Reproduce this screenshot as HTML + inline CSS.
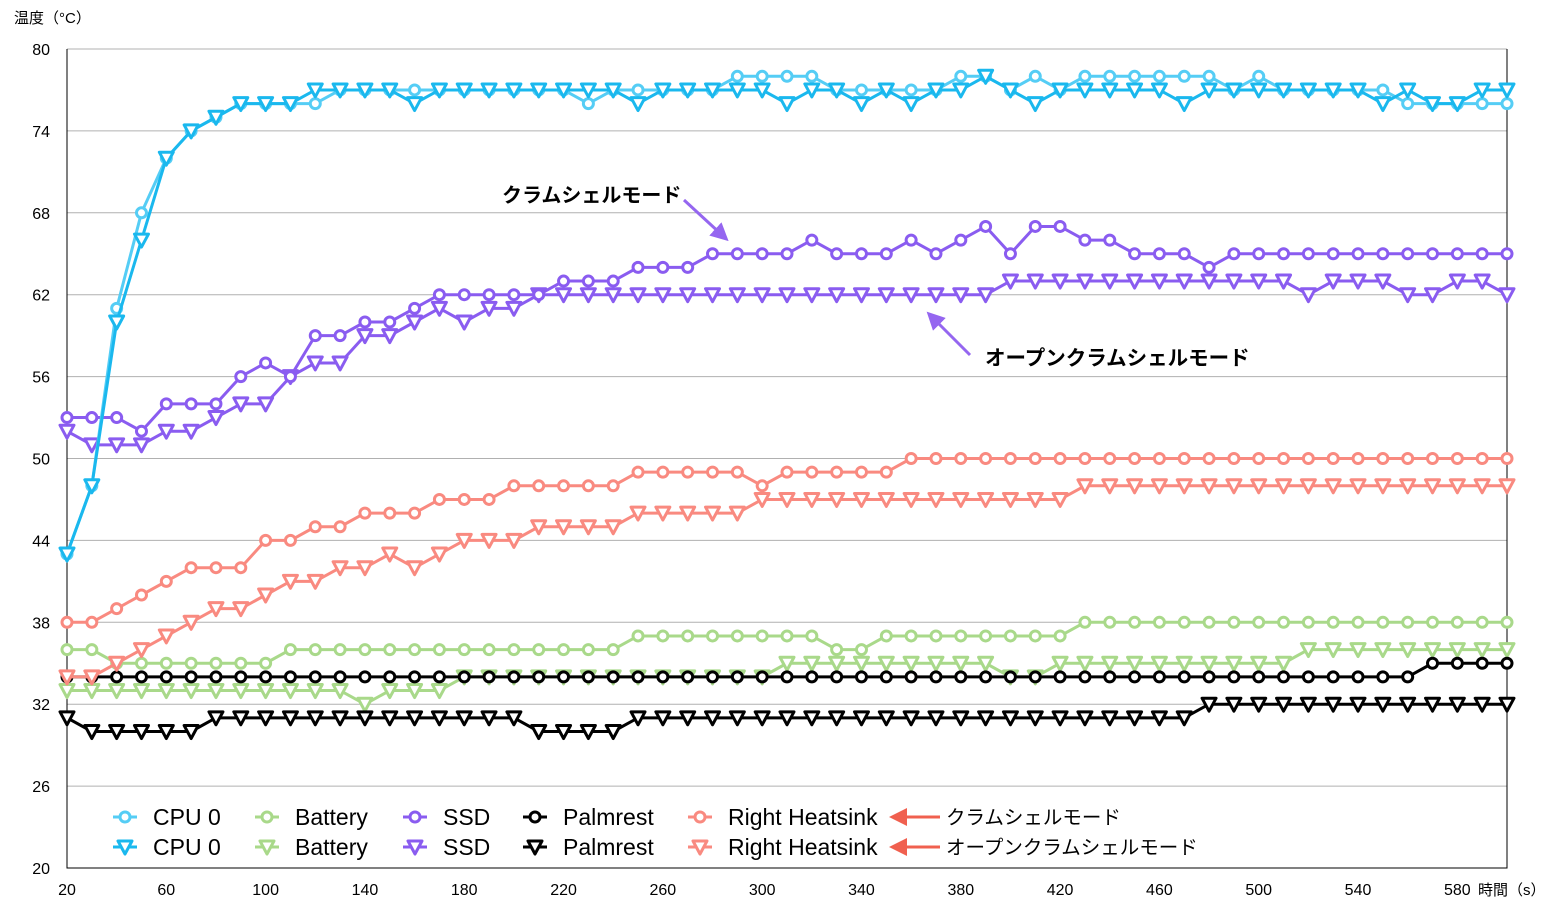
<!DOCTYPE html>
<html><head><meta charset="utf-8"><style>
body{margin:0;background:#fff;font-family:"Liberation Sans","Noto Sans CJK JP",sans-serif;}
svg text{font-family:"Liberation Sans","Noto Sans CJK JP",sans-serif;}
</style></head><body>
<svg id="chart" width="1565" height="914" xmlns="http://www.w3.org/2000/svg"></svg>
<script>
const times = [];
for (let t = 20; t <= 600; t += 10) times.push(t);
const xTicks = [20,60,100,140,180,220,260,300,340,380,420,460,500,540,580];
const yTicks = [20,26,32,38,44,50,56,62,68,74,80];
const cpuClam = [43,48,61,68,72,74,75,76,76,76,76,77,77,77,77,77,77,77,77,77,77,76,77,77,77,77,77,78,78,78,78,77,77,77,77,77,78,78,77,78,77,78,78,78,78,78,78,77,78,77,77,77,77,77,76,76,76,76,76];
const cpuOpen = [43,48,60,66,72,74,75,76,76,76,77,77,77,77,76,77,77,77,77,77,77,77,77,76,77,77,77,77,77,76,77,77,76,77,76,77,77,78,77,76,77,77,77,77,77,76,77,77,77,77,77,77,77,76,77,76,76,77,77];
const ssdClam = [53,53,53,52,54,54,54,56,57,56,59,59,60,60,61,62,62,62,62,62,63,63,63,64,64,64,65,65,65,65,66,65,65,65,66,65,66,67,65,67,67,66,66,65,65,65,64,65,65,65,65,65,65,65,65,65,65,65,65];
const ssdOpen = [52,51,51,51,52,52,53,54,54,56,57,57,59,59,60,61,60,61,61,62,62,62,62,62,62,62,62,62,62,62,62,62,62,62,62,62,62,62,63,63,63,63,63,63,63,63,63,63,63,63,62,63,63,63,62,62,63,63,62];
const rhClam = [38,38,39,40,41,42,42,42,44,44,45,45,46,46,46,47,47,47,48,48,48,48,48,49,49,49,49,49,48,49,49,49,49,49,50,50,50,50,50,50,50,50,50,50,50,50,50,50,50,50,50,50,50,50,50,50,50,50,50];
const rhOpen = [34,34,35,36,37,38,39,39,40,41,41,42,42,43,42,43,44,44,44,45,45,45,45,46,46,46,46,46,47,47,47,47,47,47,47,47,47,47,47,47,47,48,48,48,48,48,48,48,48,48,48,48,48,48,48,48,48,48,48];
const batClam = [36,36,35,35,35,35,35,35,35,36,36,36,36,36,36,36,36,36,36,36,36,36,36,37,37,37,37,37,37,37,37,36,36,37,37,37,37,37,37,37,37,38,38,38,38,38,38,38,38,38,38,38,38,38,38,38,38,38,38];
const batOpen = [33,33,33,33,33,33,33,33,33,33,33,33,32,33,33,33,34,34,34,34,34,34,34,34,34,34,34,34,34,35,35,35,35,35,35,35,35,35,34,34,35,35,35,35,35,35,35,35,35,35,36,36,36,36,36,36,36,36,36];
const palmClam = [34,34,34,34,34,34,34,34,34,34,34,34,34,34,34,34,34,34,34,34,34,34,34,34,34,34,34,34,34,34,34,34,34,34,34,34,34,34,34,34,34,34,34,34,34,34,34,34,34,34,34,34,34,34,34,35,35,35,35];
const palmOpen = [31,30,30,30,30,30,31,31,31,31,31,31,31,31,31,31,31,31,31,30,30,30,30,31,31,31,31,31,31,31,31,31,31,31,31,31,31,31,31,31,31,31,31,31,31,31,32,32,32,32,32,32,32,32,32,32,32,32,32];

const NS="http://www.w3.org/2000/svg";
const svg=document.getElementById('chart');
const X0=67,X1=1507,Y0=868,Y1=49;
function xs(t){return X0+(t-20)/(600-20)*(X1-X0);}
function ys(v){return Y0-(v-20)/(80-20)*(Y0-Y1);}
function mk(tag,attrs,parent){const e=document.createElementNS(NS,tag);for(const k in attrs)e.setAttribute(k,attrs[k]);(parent||svg).appendChild(e);return e;}

yTicks.forEach(v=>{
  if(v>20){const g=mk('line',{x1:X0,x2:X1,y1:ys(v),y2:ys(v),stroke:'#b0b0b0','stroke-width':1});
  
  }
  const t=mk('text',{x:50,y:ys(v)+6,'text-anchor':'end','font-size':16,fill:'#000'});t.textContent=v;
  
  
});
xTicks.forEach(v=>{
  const t=mk('text',{x:xs(v),y:895,'text-anchor':'middle','font-size':16,fill:'#000'});t.textContent=v;
  
  
});
const ax=mk('polyline',{points:`${X0},${Y1} ${X0},${Y0} ${X1},${Y0} ${X1},${Y1}`,fill:'none',stroke:'#000','stroke-width':1});



function circle(x,y,c,p){return mk('circle',{cx:x,cy:y,r:5,fill:'#fff',stroke:c,'stroke-width':3},p);}
function tri(x,y,c,p){return mk('polygon',{points:`${x-7},${y-6} ${x+7},${y-6} ${x},${y+7}`,fill:'#fff',stroke:c,'stroke-width':3,'stroke-linejoin':'round'},p);}

function series(vals,color,shape,name){
  const g=mk('g',{});
  
  
  const pts=vals.map((v,i)=>xs(times[i])+','+ys(v)).join(' ');
  mk('polyline',{points:pts,fill:'none',stroke:color,'stroke-width':3,'stroke-linejoin':'round'},g);
  vals.forEach((v,i)=>{
    const m=shape==='c'?circle(xs(times[i]),ys(v),color,g):tri(xs(times[i]),ys(v),color,g);
    
    
  });
}
series(batOpen,'#a9d98a','t','battery-open-series');
series(batClam,'#a9d98a','c','battery-clam-series');
series(palmOpen,'#000','t','palmrest-open-series');
series(palmClam,'#000','c','palmrest-clam-series');
series(rhOpen,'#f98a80','t','heatsink-open-series');
series(rhClam,'#f98a80','c','heatsink-clam-series');
series(ssdOpen,'#8a5cf0','t','ssd-open-series');
series(ssdClam,'#8a5cf0','c','ssd-clam-series');
series(cpuClam,'#55cdf5','c','cpu-clam-series');
series(cpuOpen,'#1ab8ee','t','cpu-open-series');

function txt(x,y,s,size,name,extra){const t=mk('text',Object.assign({x:x,y:y,'font-size':size,fill:'#000'},extra||{}));t.textContent=s;
  
  return t;}
txt(14,23,'温度（°C）',15,'y-axis-title');
txt(1478,895,'時間（s）',15,'x-axis-title');

txt(502,202,'クラムシェルモード',20,'clamshell-annotation',{'font-weight':'bold'});
txt(985,365,'オープンクラムシェルモード',20.5,'open-clamshell-annotation',{'font-weight':'bold'});
const defs=mk('defs',{});
const m1=mk('marker',{id:'ap',markerWidth:6,markerHeight:6,refX:3,refY:3,orient:'auto'},defs);
mk('path',{d:'M0,0 L6,3 L0,6 z',fill:'#9566f0'},m1);
const m2=mk('marker',{id:'ar',markerWidth:6,markerHeight:6,refX:3,refY:3,orient:'auto'},defs);
mk('path',{d:'M0,0 L6,3 L0,6 z',fill:'#f0604f'},m2);
const a1=mk('line',{x1:684,y1:200,x2:722,y2:235,stroke:'#9566f0','stroke-width':3,'marker-end':'url(#ap)'});


const a2=mk('line',{x1:970,y1:355,x2:933,y2:318,stroke:'#9566f0','stroke-width':3,'marker-end':'url(#ap)'});



const legendNames=['CPU 0','Battery','SSD','Palmrest','Right Heatsink'];
const legendColors=[['#55cdf5','#1ab8ee'],['#a9d98a','#a9d98a'],['#8a5cf0','#8a5cf0'],['#000','#000'],['#f98a80','#f98a80']];
const legendX=[125,267,415,535,700];
legendNames.forEach((n,i)=>{
  [0,1].forEach(r=>{
    const y=r===0?817:847;
    const g=mk('g',{});
    
    
    mk('line',{x1:legendX[i]-12,x2:legendX[i]+12,y1:y,y2:y,stroke:legendColors[i][r],'stroke-width':3},g);
    if(r===0)circle(legendX[i],y,legendColors[i][r],g);else tri(legendX[i],y,legendColors[i][r],g);
    const t=mk('text',{x:legendX[i]+28,y:y+8,'font-size':23,fill:'#000'},g);t.textContent=n;
  });
});
const la1=mk('line',{x1:940,y1:817,x2:898,y2:817,stroke:'#f0604f','stroke-width':3,'marker-end':'url(#ar)'});


const la2=mk('line',{x1:940,y1:847,x2:898,y2:847,stroke:'#f0604f','stroke-width':3,'marker-end':'url(#ar)'});


txt(946,824,'クラムシェルモード',19.5,'legend-clamshell-label');
txt(946,854,'オープンクラムシェルモード',19.5,'legend-open-clamshell-label');
</script>
</body></html>
